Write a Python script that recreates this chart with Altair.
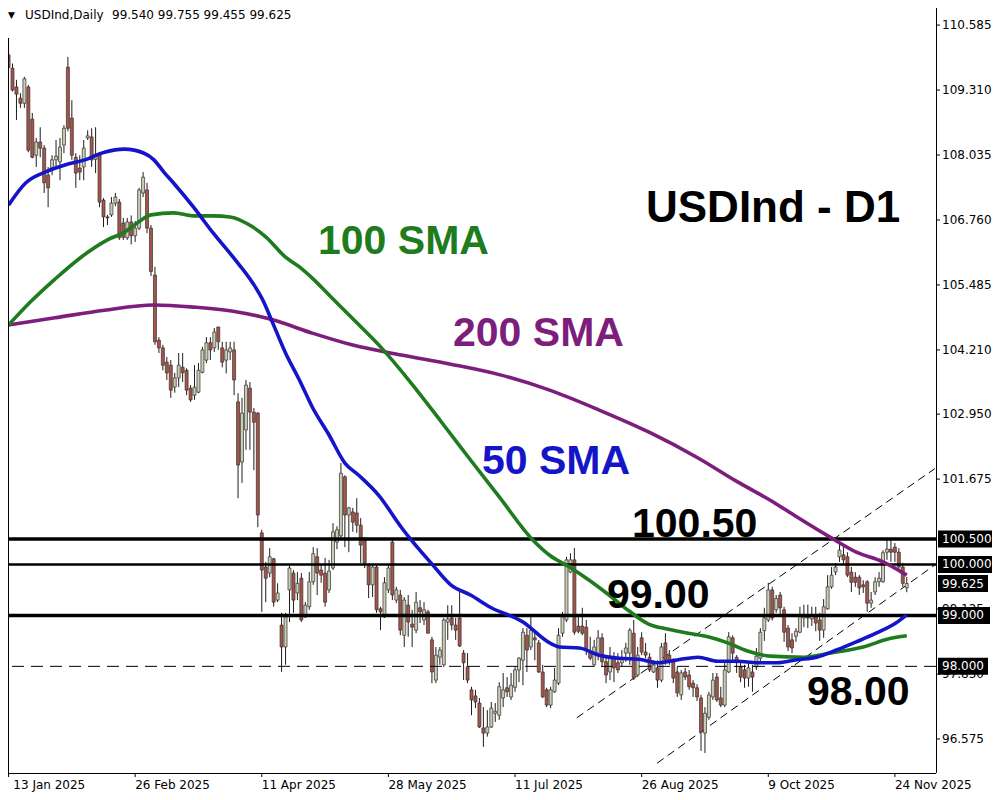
import altair as alt
import pandas as pd

# ---------------- data ----------------
DATE_LABELS = ["13 Jan 2025", "26 Feb 2025", "11 Apr 2025", "28 May 2025",
               "11 Jul 2025", "26 Aug 2025", "9 Oct 2025", "24 Nov 2025"]
DATE_LABEL_BARS = [0, 32, 64, 96, 128, 160, 192, 224]

OPEN = [110.00, 109.74, 109.37, 109.15, 109.05, 109.37, 108.74, 108.03, 108.29, 108.17,
        107.64, 107.78, 107.94, 107.90, 108.23, 109.76, 108.76, 107.99, 107.78, 107.80,
        108.37, 108.39, 107.95, 108.03, 107.15, 106.82, 106.86, 107.09, 107.11, 106.70,
        106.41, 106.72, 106.45, 106.60, 107.29, 107.35, 106.60, 105.68, 104.40, 104.25,
        103.97, 103.91, 103.48, 103.66, 103.87, 103.81, 103.46, 103.32, 103.38, 103.77,
        104.01, 104.35, 104.25, 104.66, 104.25, 104.01, 104.17, 104.21, 103.19, 102.01,
        102.64, 103.46, 102.99, 102.97, 100.62, 99.95, 99.83, 100.11, 99.30, 98.81,
        98.38, 99.50, 99.83, 99.44, 99.73, 98.97, 99.17, 99.66, 100.15, 99.89,
        99.83, 99.50, 99.93, 100.44, 100.56, 101.72, 100.97, 101.03, 101.01, 100.77,
        100.48, 99.97, 99.60, 99.95, 99.13, 98.97, 99.50, 100.44, 99.30, 99.40,
        98.61, 99.20, 98.83, 98.71, 99.15, 98.91, 99.07, 98.52, 97.73, 98.18,
        98.03, 98.87, 98.95, 98.81, 98.95, 98.26, 97.99, 97.54, 97.42, 97.28,
        96.79, 96.69, 96.81, 97.08, 97.04, 97.38, 97.58, 97.40, 97.59, 97.93,
        98.12, 98.61, 98.38, 98.56, 98.46, 97.89, 97.54, 97.24, 97.50, 97.67,
        98.65, 98.91, 99.85, 100.09, 98.79, 98.79, 98.77, 98.28, 98.03, 98.26,
        98.56, 98.09, 97.89, 98.16, 98.07, 98.07, 98.26, 98.26, 98.65, 97.83,
        98.56, 98.28, 98.18, 97.89, 97.97, 97.73, 98.46, 98.22, 98.09, 97.89,
        97.44, 97.89, 97.83, 97.67, 97.58, 97.38, 96.69, 97.00, 97.40, 97.79,
        97.38, 97.24, 97.89, 98.56, 98.18, 97.99, 97.93, 97.77, 97.89, 97.99,
        98.16, 98.70, 98.91, 99.50, 99.11, 99.40, 99.11, 98.75, 98.52, 98.59,
        98.67, 98.95, 99.01, 98.93, 99.01, 98.91, 98.71, 99.13, 99.56, 99.85,
        100.15, 100.19, 100.15, 99.85, 99.75, 99.75, 99.60, 99.66, 99.24, 99.46,
        99.66, 99.66, 100.24, 100.30, 100.34, 100.24, 99.95, 99.540]

HIGH = [110.33, 109.83, 109.51, 109.25, 109.57, 109.41, 108.86, 108.37, 108.58, 108.23,
        107.80, 108.03, 108.33, 108.37, 108.62, 109.96, 109.11, 108.07, 108.03, 108.33,
        108.52, 108.56, 108.58, 108.07, 107.19, 106.86, 107.21, 107.29, 107.17, 106.80,
        106.80, 106.85, 106.74, 107.39, 107.70, 107.49, 106.66, 105.84, 104.46, 104.31,
        104.07, 104.01, 103.76, 104.15, 104.15, 103.85, 103.52, 103.91, 103.95, 104.27,
        104.46, 104.46, 104.64, 104.66, 104.37, 104.37, 104.37, 104.37, 103.36, 103.27,
        103.62, 103.58, 103.07, 102.99, 100.68, 100.05, 100.32, 100.13, 99.63, 99.05,
        99.05, 99.99, 99.89, 99.85, 99.83, 99.26, 99.85, 100.34, 100.32, 99.99,
        100.13, 100.09, 100.81, 100.75, 101.99, 101.75, 101.13, 101.11, 101.30, 100.91,
        100.54, 99.99, 99.99, 99.99, 99.17, 99.75, 99.99, 100.48, 99.56, 99.50,
        99.36, 99.40, 99.11, 99.46, 99.30, 99.26, 99.11, 98.58, 98.38, 98.38,
        98.95, 99.20, 99.20, 98.95, 99.46, 98.32, 98.26, 97.60, 97.54, 97.38,
        97.20, 97.14, 97.30, 97.28, 97.69, 97.87, 97.79, 97.87, 97.99, 98.18,
        98.75, 98.75, 98.97, 98.71, 98.52, 98.03, 97.58, 97.60, 97.97, 98.75,
        99.07, 100.15, 100.22, 100.32, 99.01, 99.15, 98.91, 98.58, 98.52, 98.71,
        98.65, 98.22, 98.38, 98.28, 98.26, 98.32, 98.46, 98.75, 98.91, 98.38,
        98.67, 98.46, 98.26, 98.12, 98.12, 98.46, 98.65, 98.32, 98.16, 97.99,
        97.93, 97.97, 97.93, 97.73, 97.65, 97.44, 97.20, 97.50, 97.87, 97.87,
        97.60, 98.07, 98.67, 98.61, 98.22, 98.07, 98.03, 98.07, 98.03, 98.36,
        98.75, 99.15, 99.64, 99.56, 99.40, 99.46, 99.17, 98.81, 98.65, 98.75,
        99.17, 99.21, 99.21, 99.17, 99.17, 99.05, 99.32, 99.79, 99.95, 100.03,
        100.42, 100.34, 100.24, 99.95, 99.85, 99.79, 99.69, 99.69, 99.46, 99.75,
        99.85, 100.28, 100.48, 100.52, 100.42, 100.32, 100.03, 99.755]

LOW = [109.70, 109.28, 108.72, 108.96, 108.96, 108.09, 107.97, 107.80, 107.99, 107.29,
       107.01, 107.64, 107.78, 107.54, 108.07, 108.50, 107.94, 107.39, 107.54, 107.54,
       108.33, 107.80, 107.68, 107.01, 106.62, 106.66, 106.82, 107.03, 106.37, 106.37,
       106.37, 106.28, 106.33, 106.56, 107.21, 106.50, 105.66, 104.31, 104.15, 103.81,
       103.62, 103.27, 103.37, 103.48, 103.58, 103.32, 103.19, 103.23, 103.36, 103.75,
       103.95, 104.01, 104.17, 104.21, 103.87, 103.75, 104.01, 103.32, 101.30, 101.60,
       102.25, 102.25, 101.85, 100.73, 99.07, 99.26, 99.75, 99.17, 99.26, 97.89,
       98.03, 98.87, 99.05, 99.30, 98.87, 98.95, 99.11, 99.60, 99.40, 99.64,
       99.17, 99.44, 99.89, 100.30, 100.52, 100.34, 100.24, 100.64, 100.62, 100.03,
       99.93, 99.34, 99.36, 99.05, 98.71, 98.95, 99.44, 99.30, 99.24, 98.61,
       98.38, 98.58, 98.38, 98.65, 98.85, 98.81, 98.65, 97.67, 97.67, 98.03,
       97.99, 98.52, 98.71, 98.52, 98.38, 97.73, 97.67, 97.04, 97.18, 96.79,
       96.42, 96.62, 96.79, 96.91, 96.95, 97.20, 97.40, 97.34, 97.50, 97.69,
       97.63, 97.89, 98.32, 98.12, 97.87, 97.38, 97.20, 97.18, 97.48, 97.63,
       98.58, 98.87, 99.83, 98.62, 98.65, 98.61, 98.22, 98.12, 97.99, 98.12,
       97.99, 97.67, 97.73, 97.69, 97.87, 97.99, 98.09, 98.03, 97.73, 97.79,
       98.22, 98.16, 97.89, 97.87, 97.58, 97.69, 98.03, 98.03, 97.67, 97.40,
       97.34, 97.73, 97.54, 97.40, 97.32, 96.34, 96.30, 96.95, 97.34, 97.30,
       97.20, 97.20, 97.87, 98.12, 97.87, 97.69, 97.58, 97.60, 97.50, 97.93,
       98.05, 98.50, 98.87, 98.90, 99.05, 99.00, 98.48, 98.30, 98.26, 98.48,
       98.65, 98.77, 98.75, 98.79, 98.69, 98.50, 98.56, 99.11, 99.52, 99.79,
       100.05, 99.99, 99.75, 99.46, 99.56, 99.40, 99.44, 99.07, 99.15, 99.40,
       99.56, 99.64, 100.09, 100.05, 100.05, 99.85, 99.56, 99.455]

CLOSE = [109.75, 109.31, 109.23, 109.05, 109.53, 108.13, 107.99, 108.29, 108.17, 107.49,
         107.39, 107.94, 108.01, 108.19, 108.56, 108.56, 108.03, 107.68, 107.70, 108.17,
         108.41, 107.94, 108.05, 107.11, 106.82, 106.80, 107.09, 107.21, 106.41, 106.42,
         106.72, 106.45, 106.60, 107.35, 107.60, 106.60, 105.75, 104.37, 104.25, 103.91,
         103.76, 103.42, 103.66, 103.91, 103.76, 103.42, 103.23, 103.48, 103.81, 104.21,
         104.35, 104.21, 104.56, 104.37, 103.97, 104.21, 104.25, 103.62, 101.95, 102.97,
         103.52, 102.99, 102.79, 100.97, 99.89, 99.73, 100.15, 99.26, 99.44, 98.38,
         98.97, 99.93, 99.30, 99.63, 98.91, 99.20, 99.66, 100.21, 99.83, 99.79,
         99.26, 99.87, 100.64, 100.68, 101.79, 100.97, 101.11, 100.83, 100.77, 100.38,
         100.03, 99.60, 99.95, 99.11, 99.07, 99.64, 99.93, 99.40, 99.50, 98.71,
         99.30, 98.87, 98.77, 99.26, 99.07, 99.11, 98.65, 97.89, 98.22, 98.32,
         98.91, 98.93, 98.81, 98.71, 98.40, 98.07, 97.73, 97.34, 97.30, 96.81,
         96.69, 96.81, 97.18, 97.12, 97.60, 97.54, 97.50, 97.63, 97.93, 98.16,
         98.67, 98.32, 98.71, 98.52, 97.89, 97.40, 97.24, 97.54, 97.73, 98.61,
         98.97, 100.09, 100.09, 98.67, 98.69, 98.65, 98.32, 98.16, 98.38, 98.56,
         98.09, 97.83, 98.16, 97.97, 97.93, 98.16, 98.36, 98.71, 97.77, 98.22,
         98.28, 98.22, 97.93, 98.03, 97.73, 98.38, 98.12, 98.12, 97.77, 97.48,
         97.87, 97.79, 97.60, 97.58, 97.40, 96.71, 97.08, 97.44, 97.73, 97.34,
         97.24, 97.93, 98.58, 98.26, 98.07, 97.79, 97.77, 97.97, 97.79, 98.20,
         98.67, 98.95, 99.50, 98.95, 99.33, 99.15, 98.67, 98.38, 98.36, 98.69,
         99.01, 99.01, 98.95, 99.01, 98.85, 98.71, 99.17, 99.56, 99.79, 99.95,
         100.28, 100.09, 99.79, 99.65, 99.65, 99.54, 99.56, 99.24, 99.30, 99.66,
         99.73, 100.23, 100.30, 100.24, 100.24, 99.95, 99.63, 99.625]

SMA50_BAR = [0, 4.25, 9.25, 14.25, 19.25, 24.25, 29.25, 34.25, 36.75, 39.25, 41.75, 46.75,
             51.75, 56.75, 61.75, 64.25, 66.75, 70, 73.5, 76.75, 81, 85, 88.5, 93.5, 99.25,
             101.75, 106.75, 111.75, 116.75, 121.75, 130, 136.75, 139.25, 144.25, 149.25,
             154.25, 159.25, 164.25, 169.25, 174.25, 179.25, 184.25, 189.25, 194.25, 199.25,
             204.25, 209.25, 214.25, 219.25, 224.25, 227]
SMA50 = [107.05, 107.48, 107.70, 107.84, 107.94, 108.09, 108.15, 108.07, 107.94, 107.70,
         107.48, 107.01, 106.50, 106.03, 105.52, 105.19, 104.74, 104.15, 103.62, 103.09,
         102.54, 101.99, 101.75, 101.36, 100.73, 100.48, 100.03, 99.60, 99.40, 99.16,
         98.87, 98.46, 98.38, 98.36, 98.22, 98.16, 98.14, 98.07, 98.13, 98.18, 98.10,
         98.10, 98.07, 98.07, 98.13, 98.18, 98.32, 98.48, 98.65, 98.85, 99.01]

SMA100_BAR = [0, 5.5, 11.75, 18, 25, 29.25, 32.5, 36, 41.75, 46.75, 51.75, 56, 61.75, 65,
              70, 73.5, 76.75, 81.75, 86.75, 94.25, 101.75, 109.25, 116.75, 124.25, 132.5,
              136.75, 141.75, 146.75, 151.75, 156.75, 161.75, 166.75, 171.75, 176.75,
              181.75, 186.75, 192.5, 201, 207.5, 216, 222.5, 227]
SMA100 = [104.70, 105.15, 105.60, 106.01, 106.37, 106.52, 106.70, 106.86, 106.90, 106.84,
          106.84, 106.82, 106.62, 106.43, 106.03, 105.84, 105.62, 105.23, 104.84, 104.25,
          103.56, 102.81, 102.05, 101.30, 100.48, 100.18, 99.95, 99.69, 99.40, 99.09,
          98.83, 98.73, 98.65, 98.58, 98.46, 98.30, 98.20, 98.18, 98.26, 98.38, 98.54, 98.60]

SMA200_BAR = [0, 11.75, 24.25, 36.75, 46.75, 56.75, 66.75, 76.75, 86.75, 99.25, 111.75,
              124.25, 136.75, 149.25, 161.75, 174.25, 184.25, 192.5, 199.25, 207.5, 214.25,
              221, 227]
SMA200 = [104.70, 104.84, 104.99, 105.09, 105.05, 104.97, 104.80, 104.54, 104.31, 104.11,
          103.93, 103.72, 103.42, 103.03, 102.60, 102.09, 101.62, 101.26, 100.93, 100.54,
          100.24, 100.05, 99.79]

CHANNEL_UPPER_BAR = [143.6, 234.1]
CHANNEL_UPPER = [96.99, 101.88]
CHANNEL_LOWER_BAR = [163.9, 234.1]
CHANNEL_LOWER = [96.10, 99.99]

# visible price-scale ticks (100.400 is hidden under the 100.500 marker in the reference)
PRICE_TICKS = [110.585, 109.310, 108.035, 106.760, 105.485, 104.210, 102.950,
               101.675, 99.125, 97.850, 96.575]
LEVELS = [100.5, 100.0, 99.0, 98.0]

# ---------------- styling / layout ----------------
W, H = 928, 765
XDOM = [1.125, 233.125]
YDOM = [95.907, 110.92]
BULL, BEAR, OUTLINE = "#c5cfb6", "#a3564b", "#3a2c2a"
C50, C100, C200 = "#1414c8", "#1e7b1e", "#7d1e7d"
FONT = "DejaVu Sans"
BIG = "Liberation Sans"
AXFS = 12

xs = alt.Scale(domain=XDOM, nice=False, zero=False)
ys = alt.Scale(domain=YDOM, nice=False, zero=False)

candles = pd.DataFrame({"bar": list(range(len(OPEN))), "open": OPEN, "high": HIGH,
                        "low": LOW, "close": CLOSE})
candles["dir"] = ["up" if c >= o else "down" for o, c in zip(OPEN, CLOSE)]

layers = []

# right price axis (drawn as marks, behind the label boxes)
ticks = pd.DataFrame({"price": PRICE_TICKS})
layers.append(alt.Chart(ticks).mark_text(
    align="left", baseline="middle", font=FONT, fontSize=AXFS, color="black").encode(
    x=alt.value(W + 6), y=alt.Y("price:Q", scale=ys, axis=None),
    text=alt.Text("price:Q", format=".3f")))
layers.append(alt.Chart(ticks).mark_rule(color="black", strokeWidth=1).encode(
    x=alt.value(W), x2=alt.value(W + 4), y=alt.Y("price:Q", scale=ys, axis=None)))
layers.append(alt.Chart(alt.Data(values=[{}])).mark_rule(color="black", strokeWidth=1).encode(
    x=alt.value(W + 0.5), y=alt.value(0), y2=alt.value(H)))

# channel (dashed trend lines)
chan = pd.DataFrame({
    "bar": CHANNEL_UPPER_BAR + CHANNEL_LOWER_BAR,
    "price": CHANNEL_UPPER + CHANNEL_LOWER,
    "line": ["upper"] * len(CHANNEL_UPPER) + ["lower"] * len(CHANNEL_LOWER),
})
layers.append(alt.Chart(chan).mark_line(color="black", strokeWidth=1, strokeDash=[8, 5],
                                        clip=True).encode(
    x=alt.X("bar:Q", scale=xs, axis=None),
    y=alt.Y("price:Q", scale=ys, axis=None),
    detail="line:N"))

# candles
layers.append(alt.Chart(candles).mark_rule(color="#1e1e1e", strokeWidth=1, clip=True).encode(
    x=alt.X("bar:Q", scale=xs, axis=None),
    y=alt.Y("low:Q", scale=ys, axis=None), y2="high:Q"))
layers.append(alt.Chart(candles).mark_bar(width=3, stroke=OUTLINE, strokeWidth=0.7,
                                          clip=True).encode(
    x=alt.X("bar:Q", scale=xs, axis=None),
    y=alt.Y("open:Q", scale=ys, axis=None), y2="close:Q",
    fill=alt.Fill("dir:N", scale=alt.Scale(domain=["up", "down"], range=[BULL, BEAR]),
                  legend=None)))

# horizontal levels
LEVEL_STYLE = {100.5: (3.5, []), 100.0: (2.5, []), 99.0: (3.5, []), 98.0: (1, [12, 7])}
for lv in LEVELS:
    sw, dash = LEVEL_STYLE[lv]
    kw = dict(color="black", strokeWidth=sw, clip=True)
    if dash:
        kw["strokeDash"] = dash
    layers.append(alt.Chart(pd.DataFrame({"price": [lv]})).mark_rule(**kw).encode(
        y=alt.Y("price:Q", scale=ys, axis=None)))

# moving averages
for bars_, vals, col in [(SMA200_BAR, SMA200, C200), (SMA100_BAR, SMA100, C100),
                         (SMA50_BAR, SMA50, C50)]:
    layers.append(alt.Chart(pd.DataFrame({"bar": bars_, "price": vals})).mark_line(
        color=col, strokeWidth=3.6, interpolate="monotone", clip=True).encode(
        x=alt.X("bar:Q", scale=xs, axis=None),
        y=alt.Y("price:Q", scale=ys, axis=None)))

# annotation texts  (text, x, y-baseline, size, colour)
ANNOT = [("USDInd - D1", 638, 214, 44, "black"),
         ("100 SMA", 310, 246, 41, C100),
         ("200 SMA", 445, 338, 41, C200),
         ("50 SMA", 474, 466, 41, C50),
         ("100.50", 624, 529, 41, "black"),
         ("99.00", 599, 600, 41, "black"),
         ("98.00", 799, 697, 41, "black")]
for txt, px, py, fs, col in ANNOT:
    layers.append(alt.Chart(alt.Data(values=[{"t": txt}])).mark_text(
        align="left", baseline="alphabetic", font=BIG, fontWeight="bold", fontSize=fs,
        color=col).encode(x=alt.value(px), y=alt.value(py), text="t:N"))

# header
header = [("\u25BC", 0, 9), ("USDInd,Daily", 17, 12),
          (f"{OPEN[-1]:.3f} {HIGH[-1]:.3f} {LOW[-1]:.3f} {CLOSE[-1]:.3f}", 104, 12)]
for txt, px, fs in header:
    layers.append(alt.Chart(alt.Data(values=[{"t": txt}])).mark_text(
        align="left", baseline="middle", font=FONT, fontSize=fs, color="black").encode(
        x=alt.value(px), y=alt.value(7), text="t:N"))

# frame lines (left / bottom)
layers.append(alt.Chart(alt.Data(values=[{}])).mark_rule(color="black", strokeWidth=1).encode(
    x=alt.value(0), x2=alt.value(W), y=alt.value(H + 0.5)))
layers.append(alt.Chart(alt.Data(values=[{}])).mark_rule(color="black", strokeWidth=1).encode(
    x=alt.value(0.5), y=alt.value(30), y2=alt.value(H)))

# date axis (custom so the first label sits at the left edge)
dates = pd.DataFrame({"bar": DATE_LABEL_BARS, "label": DATE_LABELS})
layers.append(alt.Chart(dates).mark_rule(color="black", strokeWidth=1, clip=False).encode(
    x=alt.X("bar:Q", scale=xs, axis=None), y=alt.value(H), y2=alt.value(H + 4)))
layers.append(alt.Chart(dates).transform_calculate(
    xb="max(datum.bar, 1.2)").mark_text(
    align="left", baseline="middle", font=FONT, fontSize=AXFS, color="black").encode(
    x=alt.X("xb:Q", scale=xs, axis=None), y=alt.value(H + 12), text="label:N"))

# price label boxes on the right axis
BOX_PRICES = [100.5, 100.0, CLOSE[-1], 99.0, 98.0]
BOX_WIDTH = {100.5: 56, 100.0: 56, 99.0: 52, 98.0: 50}
for p in BOX_PRICES:
    bw = BOX_WIDTH.get(p, 50)
    d = pd.DataFrame({"price": [p]})
    layers.append(alt.Chart(d).transform_calculate(
        lo="datum.price - 0.167", hi="datum.price + 0.167").mark_rect(
        color="black").encode(
        x=alt.value(W + 2), x2=alt.value(W + 2 + bw),
        y=alt.Y("lo:Q", scale=ys, axis=None), y2="hi:Q"))
    layers.append(alt.Chart(d).mark_text(
        align="left", baseline="middle", font=FONT, fontSize=AXFS, color="white").encode(
        x=alt.value(W + 6), y=alt.Y("price:Q", scale=ys, axis=None),
        text=alt.Text("price:Q", format=".3f")))

chart = alt.layer(*layers).properties(
    width=W, height=H,
    autosize=alt.AutoSizeParams(type="none"),
    padding={"left": 0, "top": 0, "right": 56, "bottom": 19},
    background="white",
).configure_view(stroke=None)

chart.save("out.html", embed_options={"renderer": "svg", "actions": False})
